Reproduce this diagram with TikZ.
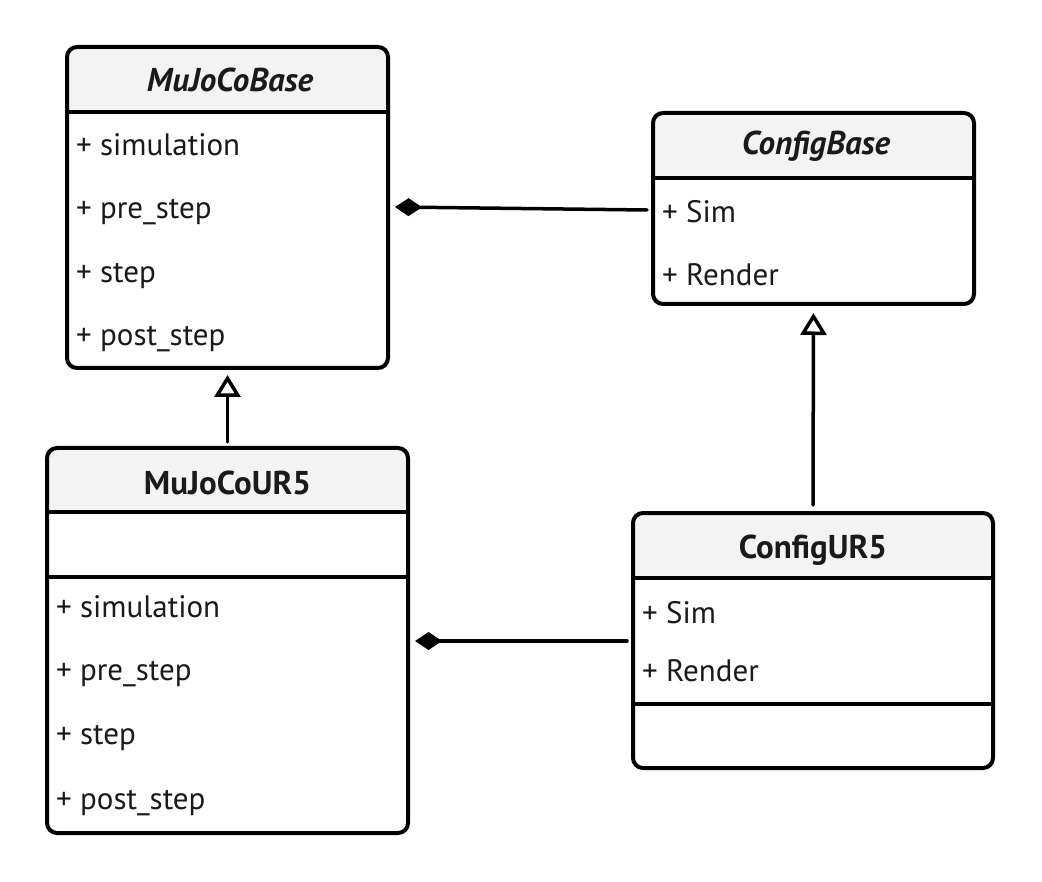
\documentclass[tikz,border=0pt]{standalone}
\usepackage{fontspec}
\setmainfont{PT Sans}
\usetikzlibrary{arrows.meta,fit}
\definecolor{ink}{HTML}{1A1A1A}
\definecolor{headfill}{HTML}{F3F3F3}
\tikzset{
  classbox/.style={draw=black, line width=4pt, rounded corners=10pt, inner sep=0pt, outer sep=0pt},
  sepline/.style={draw=black, line width=4pt},
  member/.style={anchor=base west, inner sep=0pt, font=\fontsize{31}{36}\selectfont, text=ink},
  classtitle/.style={anchor=base, inner sep=0pt, font=\fontsize{33}{38}\selectfont\bfseries, text=ink},
  abstitle/.style={classtitle, font=\fontsize{33}{38}\selectfont\bfseries\itshape},
  compline/.style={line width=3.5pt, line cap=round, -{Diamond[length=27pt,width=18pt]}},
  inhline/.style={line width=3.5pt, line cap=round, -{Triangle[open,length=22pt,width=26pt,fill=white]}},
}
\newcommand{\umlbox}[6]{%
  \fill[headfill, rounded corners=10pt] (#2,#3) rectangle (#4,#6);
  \fill[headfill] (#2,#6-14) rectangle (#4,#6);
  \node[classbox, fit={(#2,#3) (#4,#5)}] (#1) {};
  \draw[sepline] (#2,#6) -- (#4,#6);
}
\begin{document}
\begin{tikzpicture}[x=1pt,y=-1pt]
\useasboundingbox[fill=white] (0,0) rectangle (1042,882);

% MuJoCoBase
\umlbox{base}{67}{47}{388}{368}{112}
\node[abstitle] (base-t) at (230,92) {MuJoCoBase};
\node[member] (base-m1) at (76,156) {+ simulation};
\node[member] (base-m2) at (76,219) {+ pre\_step};
\node[member] (base-m3) at (76,283) {+ step};
\node[member] (base-m4) at (76,346) {+ post\_step};

% ConfigBase
\umlbox{cbase}{653}{113}{974}{304}{178}
\node[abstitle] (cbase-t) at (816,155) {ConfigBase};
\node[member] (cbase-m1) at (662,223) {+ Sim};
\node[member] (cbase-m2) at (662,286) {+ Render};

% MuJoCoUR5
\umlbox{ur5}{47}{448}{408}{833}{512}
\draw[sepline] (47,577) -- (408,577);
\node[classtitle] (ur5-t) at (227.5,494) {MuJoCoUR5};
\node[member] (ur5-m1) at (56,617) {+ simulation};
\node[member] (ur5-m2) at (56,680) {+ pre\_step};
\node[member] (ur5-m3) at (56,744) {+ step};
\node[member] (ur5-m4) at (56,809) {+ post\_step};

% ConfigUR5
\umlbox{cur5}{633}{513}{993}{768}{578}
\draw[sepline] (633,704) -- (993,704);
\node[classtitle] (cur5-t) at (813,558) {ConfigUR5};
\node[member] (cur5-m1) at (642,623) {+ Sim};
\node[member] (cur5-m2) at (642,681) {+ Render};

% compositions
\coordinate (k1a) at (647,210);
\coordinate (k1b) at (395,207);
\draw[compline] (k1a) -- (k1b);
\coordinate (k2a) at (627,641);
\coordinate (k2b) at (415,641);
\draw[compline] (k2a) -- (k2b);

% inheritance
\draw[inhline, shorten <=6pt, shorten >=7pt] (ur5.north) -- (base.south);
\draw[inhline, shorten <=8pt, shorten >=9pt] (cur5.north) -- (cbase.south);
\end{tikzpicture}
\end{document}
